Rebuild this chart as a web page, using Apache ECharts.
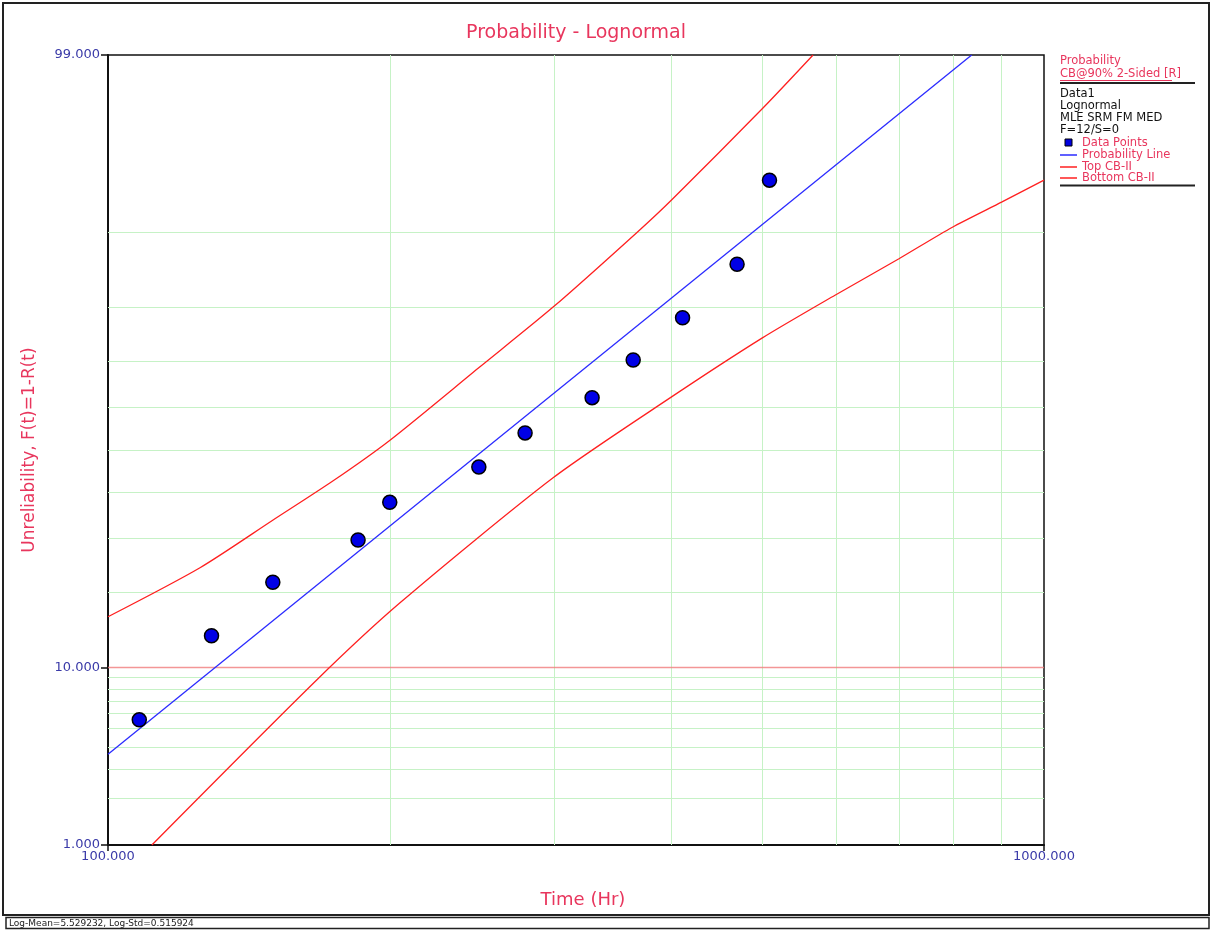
<!DOCTYPE html>
<html>
<head>
<meta charset="utf-8">
<script src="https://cdn.jsdelivr.net/npm/echarts@6/dist/echarts.min.js"></script>
<style>
html,body{margin:0;padding:0;background:#fff;}
#chart{width:1213px;height:931px;}
</style>
</head>
<body>
<div id="chart"></div>
<script>
// ---- data ----
const pointTimes = [108, 129, 150, 185, 200, 249, 279, 329, 364, 411, 470, 509];
const pointProbs = [5.6, 13.7, 21.8, 29.8, 37.9, 46.0, 54.0, 62.1, 70.2, 78.2, 86.3, 94.4];

const lineTimes = [100, 837];
const lineProbs = [3.66, 99.0];

const topTimes = [100, 125.4, 150.1, 174.0, 200.1, 249.7, 298.9, 367.4, 400.5, 500.9, 566.6];
const topProbs = [16.3, 24.4, 34.0, 42.8, 52.3, 68.8, 80.0, 90.0, 93.0, 97.8, 99.0];

const botTimes = [111.4, 167.2, 205.1, 298.9, 395.6, 499.7, 598.0, 699.9, 797.3, 901.9, 1000];
const botProbs = [1.0, 8.8, 18.4, 43.5, 61.6, 74.5, 81.9, 87.0, 90.5, 92.8, 94.4];

const yTickLabels = [1, 10, 99];
const xTickLabels = [100, 1000];
const yGridGreen = [2, 3, 4, 5, 6, 7, 8, 9, 20, 30, 40, 50, 60, 70, 80, 90];
const yGridRed = [10];
const xGrid = [200, 300, 400, 500, 600, 700, 800, 900];

const legendInfo = ['Data1', 'Lognormal', 'MLE SRM FM MED', 'F=12/S=0'];
const statusText = 'Log-Mean=5.529232, Log-Std=0.515924';

// ---- probability scale transform (inverse normal CDF) ----
function probit(p) {
  const a=[-3.969683028665376e+01,2.209460984245205e+02,-2.759285104469687e+02,1.383577518672690e+02,-3.066479806614716e+01,2.506628277459239e+00];
  const b=[-5.447609879822406e+01,1.615858368580409e+02,-1.556989798598866e+02,6.680131188771972e+01,-1.328068155288572e+01];
  const c=[-7.784894002430293e-03,-3.223964580411365e-01,-2.400758277161838e+00,-2.549732539343734e+00,4.374664141464968e+00,2.938163982698783e+00];
  const d=[7.784695709041462e-03,3.224671290700398e-01,2.445134137142996e+00,3.754408661907416e+00];
  const pl=0.02425, ph=1-pl;
  let q, r;
  if (p < pl) {
    q = Math.sqrt(-2*Math.log(p));
    return (((((c[0]*q+c[1])*q+c[2])*q+c[3])*q+c[4])*q+c[5])/((((d[0]*q+d[1])*q+d[2])*q+d[3])*q+1);
  } else if (p <= ph) {
    q = p-0.5; r = q*q;
    return (((((a[0]*r+a[1])*r+a[2])*r+a[3])*r+a[4])*r+a[5])*q/(((((b[0]*r+b[1])*r+b[2])*r+b[3])*r+b[4])*r+1);
  } else {
    q = Math.sqrt(-2*Math.log(1-p));
    return -(((((c[0]*q+c[1])*q+c[2])*q+c[3])*q+c[4])*q+c[5])/((((d[0]*q+d[1])*q+d[2])*q+d[3])*q+1);
  }
}
const Z = pct => probit(pct/100);
const pairs = (xs, ps) => xs.map((x, i) => [x, Z(ps[i])]);

const yTickZ = yTickLabels.map(Z);
const yMin = Z(1), yMax = Z(99);

const PINK = '#e8365d';
const TICKBLUE = '#3a3aa8';
const GRIDGREEN = '#c6f2c6';
const FONT = '"DejaVu Sans", Verdana, sans-serif';

const chart = echarts.init(document.getElementById('chart'), null, {renderer: 'canvas'});

const greenMarks = [];
xGrid.forEach(v => greenMarks.push({xAxis: v}));
yGridGreen.forEach(v => greenMarks.push({yAxis: Z(v)}));
const redMarks = yGridRed.map(v => ({yAxis: Z(v)}));

// legend drawn as graphics
const LX = 1060;
const legendGraphics = [];
function txt(text, x, y, color, size) {
  legendGraphics.push({type: 'text', silent: true, style: {text, x, y, fill: color, font: (size||11.5) + 'px ' + FONT, align: 'left', verticalAlign: 'middle'}});
}
txt('Probability', LX, 61, PINK);
txt('CB@90% 2-Sided [R]', LX, 74, PINK);
legendGraphics.push({type: 'line', silent: true, shape: {x1: LX, y1: 80.5, x2: 1172, y2: 80.5}, style: {stroke: PINK, lineWidth: 1}});
legendGraphics.push({type: 'line', silent: true, shape: {x1: LX, y1: 83, x2: 1195, y2: 83}, style: {stroke: '#222', lineWidth: 2}});
legendInfo.forEach((t, i) => txt(t, LX, 94 + i*12, '#111'));
legendGraphics.push({type: 'rect', silent: true, shape: {x: 1065, y: 139, width: 7, height: 7}, style: {fill: '#0000e0', stroke: '#000', lineWidth: 1}});
txt('Data Points', 1082, 143, PINK);
legendGraphics.push({type: 'line', silent: true, shape: {x1: LX, y1: 155, x2: 1077, y2: 155}, style: {stroke: '#2b2bff', lineWidth: 1.5}});
txt('Probability Line', 1082, 155, PINK);
legendGraphics.push({type: 'line', silent: true, shape: {x1: LX, y1: 167, x2: 1077, y2: 167}, style: {stroke: '#ff2020', lineWidth: 1.5}});
txt('Top CB-II', 1082, 167, PINK);
legendGraphics.push({type: 'line', silent: true, shape: {x1: LX, y1: 178, x2: 1077, y2: 178}, style: {stroke: '#ff2020', lineWidth: 1.5}});
txt('Bottom CB-II', 1082, 178, PINK);
legendGraphics.push({type: 'line', silent: true, shape: {x1: LX, y1: 185.5, x2: 1195, y2: 185.5}, style: {stroke: '#222', lineWidth: 2}});

const option = {
  animation: false,
  backgroundColor: '#fff',
  grid: {left: 108, top: 55, right: 169, bottom: 86, show: true, borderColor: '#111', borderWidth: 1.5, backgroundColor: 'transparent'},
  xAxis: {
    type: 'log', logBase: 10, min: 100, max: 1000,
    name: 'Time (Hr)', nameLocation: 'middle', nameGap: 46,
    nameTextStyle: {color: PINK, fontSize: 18, fontFamily: FONT, padding: [0, 0, 0, 14]},
    axisLine: {show: true, onZero: false, lineStyle: {color: '#111', width: 2}},
    axisTick: {show: true, length: 6, lineStyle: {color: '#111', width: 1.5}},
    axisLabel: {show: true, showMinLabel: true, showMaxLabel: true, color: TICKBLUE, fontSize: 13, fontFamily: FONT, margin: 5,
      formatter: v => Number(v).toFixed(3)},
    splitLine: {show: false},
    minorTick: {show: false}
  },
  yAxis: {
    type: 'value', min: yMin, max: yMax,
    name: 'Unreliability, F(t)=1-R(t)', nameLocation: 'middle', nameGap: 70, nameRotate: 90,
    nameTextStyle: {color: PINK, fontSize: 17, fontFamily: FONT},
    axisLine: {show: true, onZero: false, lineStyle: {color: '#111', width: 2}},
    axisTick: {show: true, length: 7, customValues: yTickZ, lineStyle: {color: '#111', width: 1.5}},
    axisLabel: {show: true, customValues: yTickZ, color: TICKBLUE, fontSize: 13, fontFamily: FONT, margin: 8,
      formatter: v => {
        let best = 0, bd = Infinity;
        yTickZ.forEach((z, i) => { const dd = Math.abs(z - v); if (dd < bd) { bd = dd; best = i; } });
        return yTickLabels[best].toFixed(3);
      }},
    splitLine: {show: false}
  },
  graphic: [
    {type: 'rect', silent: true, shape: {x: 3, y: 3, width: 1206, height: 912}, style: {fill: 'none', stroke: '#222', lineWidth: 2}},
    {type: 'rect', silent: true, shape: {x: 6, y: 917.5, width: 1203, height: 11}, style: {fill: 'none', stroke: '#222', lineWidth: 1.5}},
    {type: 'text', silent: true, style: {text: statusText, x: 9, y: 923.5, fill: '#222', font: '9px ' + FONT, align: 'left', verticalAlign: 'middle'}},
    {type: 'text', silent: true, style: {text: 'Probability - Lognormal', x: 576, y: 33, fill: PINK, font: '19px ' + FONT, align: 'center', verticalAlign: 'middle'}},
    ...legendGraphics
  ],
  series: [
    {
      name: 'gridGreen', type: 'line', data: [], z: 1, silent: true,
      markLine: {silent: true, z: 1, symbol: ['none', 'none'], label: {show: false}, animation: false,
        lineStyle: {color: GRIDGREEN, width: 1, type: 'solid'},
        emphasis: {disabled: true},
        data: greenMarks}
    },
    {
      name: 'gridRed', type: 'line', data: [], z: 1, silent: true,
      markLine: {silent: true, z: 2, symbol: ['none', 'none'], label: {show: false}, animation: false,
        lineStyle: {color: '#f07c7c', width: 1.4, type: 'solid', opacity: 0.8},
        emphasis: {disabled: true},
        data: redMarks}
    },
    {
      name: 'Top CB-II', type: 'line', z: 3, data: pairs(topTimes, topProbs), smooth: 0.25,
      showSymbol: false, lineStyle: {color: '#ff2020', width: 1.3}
    },
    {
      name: 'Bottom CB-II', type: 'line', z: 3, data: pairs(botTimes, botProbs), smooth: 0.25,
      showSymbol: false, lineStyle: {color: '#ff2020', width: 1.3}
    },
    {
      name: 'Probability Line', type: 'line', z: 4, data: pairs(lineTimes, lineProbs),
      showSymbol: false, lineStyle: {color: '#2b2bff', width: 1.3}
    },
    {
      name: 'Data Points', type: 'scatter', z: 5, data: pairs(pointTimes, pointProbs),
      symbol: 'circle', symbolSize: 14,
      itemStyle: {color: '#0000e6', borderColor: '#000', borderWidth: 1.5, opacity: 1}
    }
  ]
};
chart.setOption(option);
</script>
</body>
</html>
